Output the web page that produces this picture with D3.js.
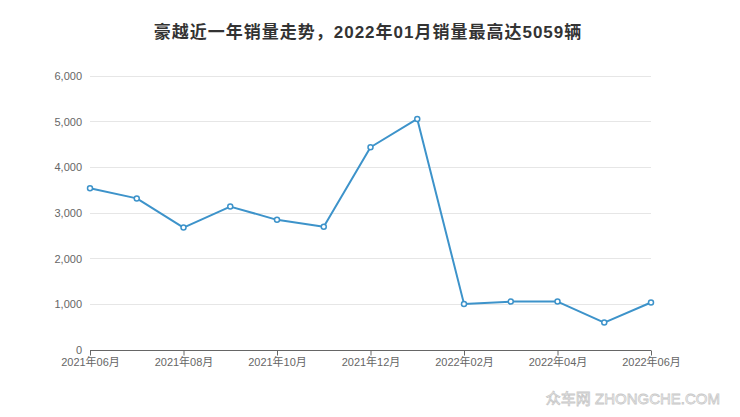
<!DOCTYPE html>
<html><head><meta charset="utf-8">
<script src="https://cdn.jsdelivr.net/npm/d3@7"></script>
<style>body{margin:0;background:#fff;}svg{display:block;}</style>
</head><body>
<script>
const months = ["2021-06","2021-07","2021-08","2021-09","2021-10","2021-11","2021-12","2022-01","2022-02","2022-03","2022-04","2022-05","2022-06"];
const sales = [3540,3320,2680,3140,2850,2700,4440,5059,1010,1060,1060,600,1040];
const yTicks = [0,1000,2000,3000,4000,5000,6000];
const title = "豪越近一年销量走势，2022年01月销量最高达5059辆";

const W=740,H=417;
const svg=d3.select("body").append("svg").attr("width",W).attr("height",H);
const font="'Helvetica Neue',Arial,'Liberation Sans','Noto Sans CJK SC',sans-serif";
const parse=d3.timeParse("%Y-%m");
const xi=d3.scalePoint().domain(months).range([90,651]);
const y=d3.scaleLinear().domain([0,6000]).range([350,76]);

svg.append("text").attr("x",368).attr("y",38).attr("text-anchor","middle")
  .attr("font-family",font).attr("font-size",17).attr("font-weight","bold")
  .attr("letter-spacing",1).attr("fill","#333").text(title);

// grid
svg.append("g").selectAll("line").data(yTicks.filter(d=>d>0)).join("line")
  .attr("x1",90).attr("x2",651).attr("y1",d=>y(d)).attr("y2",d=>y(d))
  .attr("stroke","#e6e6e6").attr("stroke-width",1).attr("shape-rendering","crispEdges");

// y axis labels
const yAxis=svg.append("g").attr("transform","translate(90,0)")
  .call(d3.axisLeft(y).tickValues(yTicks).tickFormat(d3.format(",")).tickSize(0).tickPadding(8));
yAxis.select(".domain").remove();
yAxis.selectAll("text").attr("font-family",font).attr("font-size",11).attr("fill","#666");

// x axis
const xTickMonths=months.filter((d,i)=>i%2===0);
const xAxis=svg.append("g").attr("transform","translate(0,350.5)")
  .call(d3.axisBottom(xi).tickValues(xTickMonths).tickSize(5).tickPadding(3)
    .tickFormat(d=>d3.timeFormat("%Y年%m月")(parse(d))));
xAxis.select(".domain").attr("stroke","#666").attr("d","M90,0H651");
xAxis.selectAll(".tick line").attr("stroke","#666");
xAxis.selectAll("text").attr("font-family",font).attr("font-size",11).attr("fill","#666");

// line
const line=d3.line().x((d,i)=>xi(months[i])).y(d=>y(d));
svg.append("path").datum(sales).attr("d",line).attr("fill","none")
  .attr("stroke","#3d93ca").attr("stroke-width",2).attr("stroke-linejoin","round");
svg.append("g").selectAll("circle").data(sales).join("circle")
  .attr("cx",(d,i)=>xi(months[i])).attr("cy",d=>y(d)).attr("r",2.5)
  .attr("fill","#fff").attr("stroke","#3d93ca").attr("stroke-width",1.5);

// watermark
svg.append("text").attr("x",720).attr("y",404).attr("text-anchor","end")
  .attr("font-family",font).attr("font-size",15).attr("fill","#fff")
  .attr("stroke","#c8c8c8").attr("stroke-width",0.8).text("众车网 ZHONGCHE.COM");
</script>
</body></html>
